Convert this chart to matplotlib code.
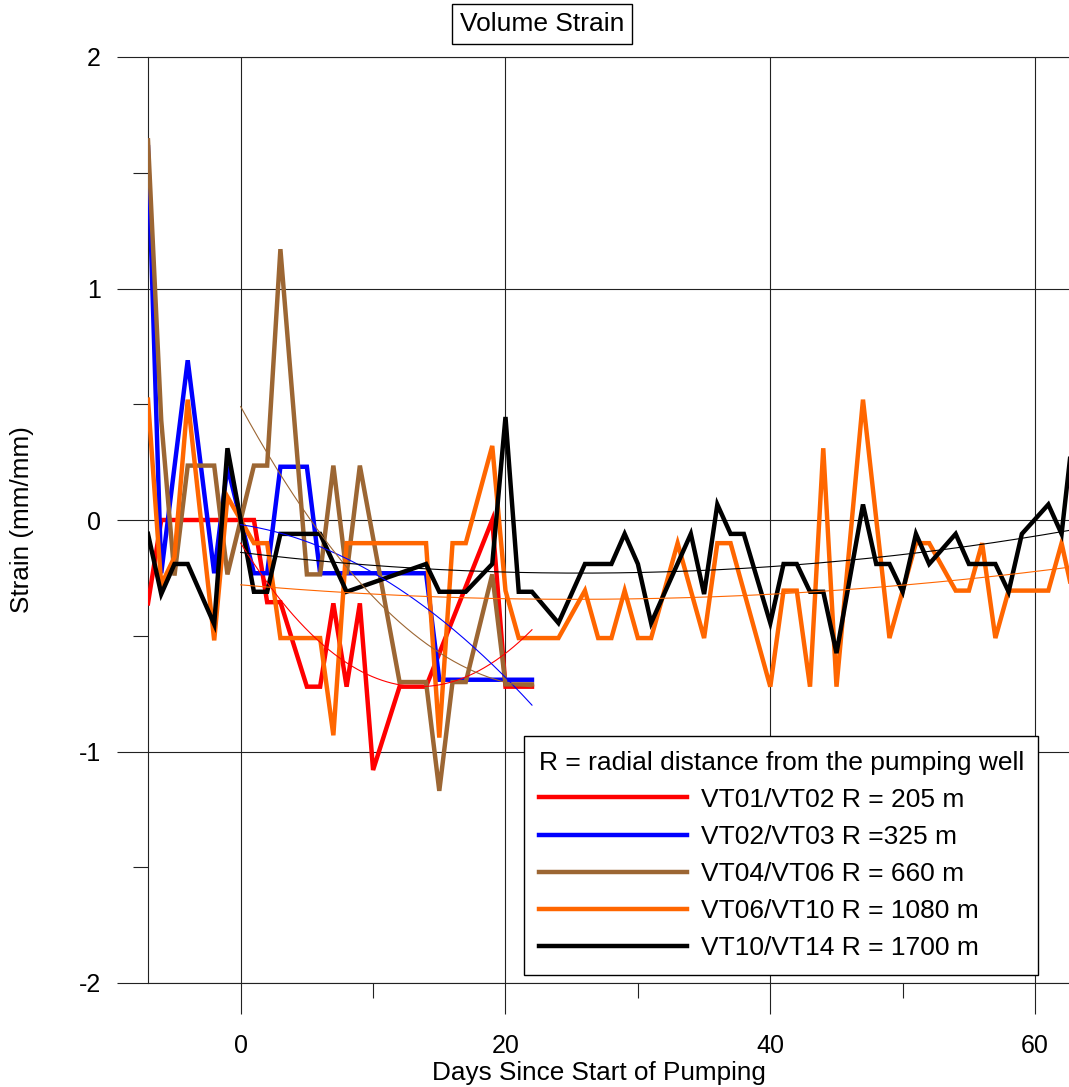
import numpy as np
import matplotlib
matplotlib.use("Agg")
import matplotlib.pyplot as plt
from matplotlib.ticker import FixedLocator

plt.rcParams['font.family'] = ['Liberation Sans', 'DejaVu Sans']
plt.rcParams['axes.unicode_minus'] = False

# ---- data: days since start of pumping and volume strain (mm/mm) ----
red_days = [-7, -6, 1, 2, 3, 5, 6, 7, 8, 9, 10, 12, 14, 19, 20, 22]
red_vals = [-0.36, 0.0, 0.0, -0.355, -0.355, -0.72, -0.72, -0.36, -0.72, -0.36,
            -1.08, -0.72, -0.72, 0.0, -0.72, -0.72]

blue_days = [-7, -6, -4, -2, -1, 0, 1, 2, 3, 5, 6, 14, 15, 22]
blue_vals = [1.61, -0.23, 0.69, -0.23, 0.23, 0.0, -0.23, -0.23, 0.23, 0.23,
             -0.23, -0.23, -0.69, -0.69]

brown_days = [-7, -6, -5, -4, -2, -1, 0, 1, 2, 3, 5, 6, 7, 8, 9, 12, 14, 15,
              16, 17, 19, 20, 22]
brown_vals = [1.64, 0.43, -0.24, 0.235, 0.235, -0.235, 0.0, 0.235, 0.235, 1.17,
              -0.235, -0.235, 0.235, -0.235, 0.235, -0.70, -0.70, -1.17, -0.70,
              -0.70, -0.235, -0.71, -0.71]

orange_days = [-7, -6, -5, -4, -2, -1, 0, 1, 2, 3, 6, 7, 8, 14, 15, 16, 17, 19,
               20, 21, 24, 26, 27, 28, 29, 30, 31, 33, 35, 36, 37, 40, 41, 42,
               43, 44, 45, 47, 49, 51, 52, 54, 55, 56, 57, 58, 61, 62, 63]
orange_vals = [0.52, -0.28, -0.16, 0.52, -0.52, 0.10, 0.0, -0.10, -0.10, -0.51,
               -0.51, -0.93, -0.10, -0.10, -0.94, -0.10, -0.10, 0.32, -0.305,
               -0.51, -0.51, -0.305, -0.51, -0.51, -0.305, -0.51, -0.51, -0.10,
               -0.51, -0.10, -0.10, -0.72, -0.305, -0.305, -0.72, 0.31, -0.72,
               0.52, -0.51, -0.10, -0.10, -0.305, -0.305, -0.10, -0.51, -0.305,
               -0.305, -0.10, -0.36]

black_days = [-7, -6, -5, -4, -2, -1, 0, 1, 2, 3, 6, 8, 14, 15, 17, 19, 20, 21,
              22, 24, 26, 28, 29, 30, 31, 34, 35, 36, 37, 38, 40, 41, 42, 43,
              44, 45, 47, 48, 49, 50, 51, 52, 54, 55, 57, 58, 59, 61, 62, 63]
black_vals = [-0.06, -0.32, -0.19, -0.19, -0.45, 0.31, 0.0, -0.31, -0.31, -0.06,
              -0.06, -0.31, -0.19, -0.31, -0.31, -0.19, 0.445, -0.31, -0.31,
              -0.445, -0.19, -0.19, -0.06, -0.19, -0.445, -0.06, -0.32, 0.067,
              -0.06, -0.06, -0.445, -0.19, -0.19, -0.31, -0.31, -0.575, 0.067,
              -0.19, -0.19, -0.31, -0.06, -0.19, -0.06, -0.19, -0.19, -0.31,
              -0.06, 0.067, -0.06, 0.45]

# quadratic trend coefficients (highest power first) and fitted day ranges
red_trend = [0.0034, -0.0918, -0.100]
blue_trend = [-0.00122, -0.0086, -0.020]
brown_trend = [0.002257, -0.1047, 0.490]
orange_trend = [0.000099, -0.00498, -0.280]
black_trend = [0.0001355, -0.00696, -0.140]
short_trend_span = [0, 22]
long_trend_span = [0, 63]

labels = ["VT01/VT02 R = 205 m", "VT02/VT03 R =325 m", "VT04/VT06 R = 660 m",
          "VT06/VT10 R = 1080 m", "VT10/VT14 R = 1700 m"]
colors = ["#ff0000", "#0000ff", "#9c6633", "#ff6600", "#000000"]

x_major = [0, 20, 40, 60]
x_minor = [10, 30, 50]
y_major = [-2, -1, 0, 1, 2]
y_minor = [-1.5, -0.5, 0.5, 1.5]

# ---- figure ----
W, H = 1069, 1087
fig = plt.figure(figsize=(W / 100, H / 100), dpi=100)
ax = fig.add_axes([148 / W, (H - 983) / H, (W - 148) / W, (983 - 57) / H])
ax.set_xlim(-7, 62.56)
ax.set_ylim(-2, 2)

series = [(red_days, red_vals), (blue_days, blue_vals), (brown_days, brown_vals),
          (orange_days, orange_vals), (black_days, black_vals)]
for (d, v), c, lab in zip(series, colors, labels):
    ax.plot(d, v, color=c, lw=3.2, label=lab, solid_joinstyle='miter', zorder=3)

trends = [(red_trend, short_trend_span), (blue_trend, short_trend_span),
          (brown_trend, short_trend_span), (orange_trend, long_trend_span),
          (black_trend, long_trend_span)]
for (coef, span), c in zip(trends, colors):
    xs = np.linspace(span[0], span[1], 300)
    ax.plot(xs, np.polyval(coef, xs), color=c, lw=0.8, zorder=4)

# axes frame and grid
ax.spines["right"].set_visible(False)
for side in ("left", "top", "bottom"):
    ax.spines[side].set_color("#222222")
    ax.spines[side].set_linewidth(0.8)
ax.xaxis.set_major_locator(FixedLocator(x_major))
ax.xaxis.set_minor_locator(FixedLocator(x_minor))
ax.yaxis.set_major_locator(FixedLocator(y_major))
ax.yaxis.set_minor_locator(FixedLocator(y_minor))
ax.set_xticklabels([str(v) for v in x_major])
ax.set_yticklabels([str(v) for v in y_major])
ax.grid(which='major', color='#222222', lw=0.8, zorder=1)
ax.tick_params(which='major', length=22, width=0.8, color='#222222',
               labelsize=18, pad=12, direction='out')
ax.tick_params(axis='x', which='major', pad=14.5)
ax.tick_params(which='minor', length=11, width=0.8, color='#222222',
               direction='out')

ax.set_xlabel("Days Since Start of Pumping", fontsize=18.8)
ax.xaxis.set_label_coords(451 / 921, (983 - 1073) / 926)
ax.xaxis.label.set_va('center')
ax.set_ylabel("Strain (mm/mm)", fontsize=18.8)
ax.yaxis.set_label_coords((22 - 148) / 921, 0.5)
ax.yaxis.label.set_va('center')

leg = ax.legend(loc='upper left', bbox_to_anchor=((524 - 148) / 921, (983 - 736) / 926),
                borderaxespad=0, fontsize=19, title="R = radial distance from the pumping well",
                title_fontsize=19, alignment='left', handlelength=5.64,
                handletextpad=0.5, labelspacing=0.5, borderpad=0.55,
                fancybox=False, framealpha=1, edgecolor='black')
leg.get_frame().set_linewidth(1.0)
leg.set_zorder(10)

fig.text(542 / W, 1 - 24 / H, "Volume Strain", fontsize=19, ha='center', va='center',
         bbox=dict(boxstyle='square,pad=0.3', fc='white', ec='black', lw=1.0))

fig.savefig("out.png", dpi=100)
